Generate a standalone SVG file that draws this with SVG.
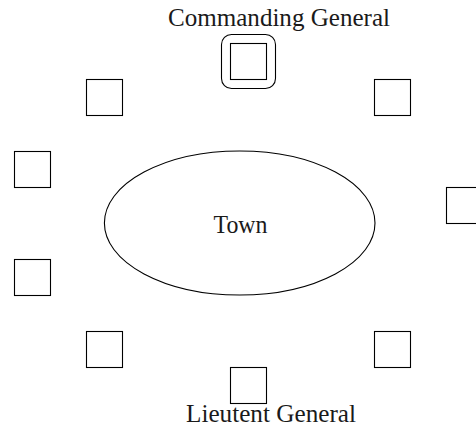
<svg xmlns="http://www.w3.org/2000/svg" width="476" height="425" viewBox="0 0 476 425">
  <style>
    .box { fill: none; stroke: #000; stroke-width: 1.1; }
    .label { font-family: "Liberation Serif", "DejaVu Serif", serif; font-size: 25px; fill: #1a1a1a; text-anchor: middle; }
  </style>
  <rect width="476" height="425" fill="#fff"/>
  <g id="connectors"/>
  <g id="town">
    <ellipse class="box" cx="239.7" cy="223" rx="135.3" ry="72"/>
    <text class="label" x="240.5" y="232.5" textLength="54" lengthAdjust="spacingAndGlyphs">Town</text>
  </g>
  <g id="commanding-general">
    <rect class="box" x="221.5" y="34.5" width="54" height="54" rx="10"/>
    <rect class="box" x="230.5" y="43.5" width="36" height="36"/>
    <text class="label" x="279" y="26" textLength="222" lengthAdjust="spacingAndGlyphs">Commanding General</text>
  </g>
  <g id="post-nw"><rect class="box" x="86.5" y="79.5" width="36" height="36"/></g>
  <g id="post-ne"><rect class="box" x="374.5" y="79.5" width="36" height="36"/></g>
  <g id="post-w-upper"><rect class="box" x="14.5" y="151.5" width="36" height="36"/></g>
  <g id="post-e"><rect class="box" x="446.5" y="187.5" width="36" height="36"/></g>
  <g id="post-w-lower"><rect class="box" x="14.5" y="259.5" width="36" height="36"/></g>
  <g id="post-sw"><rect class="box" x="86.5" y="331.5" width="36" height="36"/></g>
  <g id="post-se"><rect class="box" x="374.5" y="331.5" width="36" height="36"/></g>
  <g id="lieutenant-general">
    <rect class="box" x="230.5" y="367.5" width="36" height="36"/>
    <text class="label" x="271" y="421.5" textLength="170" lengthAdjust="spacingAndGlyphs">Lieutent General</text>
  </g>
</svg>
